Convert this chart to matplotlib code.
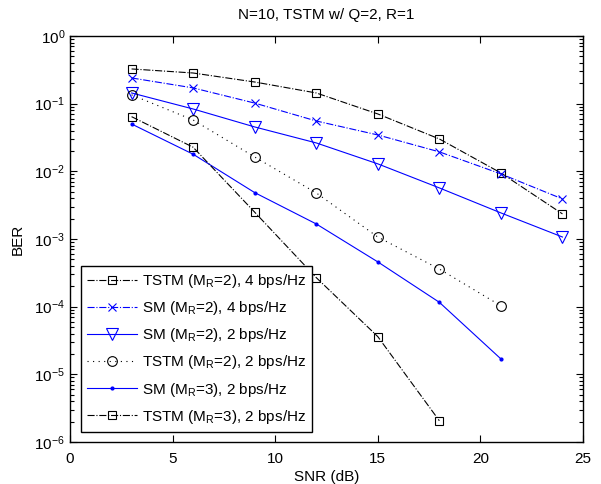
import numpy as np
import matplotlib
matplotlib.use('Agg')
import matplotlib.pyplot as plt
from matplotlib.ticker import LogLocator, NullFormatter

plt.rcParams['font.family'] = 'Liberation Sans'
plt.rcParams['mathtext.fontset'] = 'custom'
plt.rcParams['mathtext.rm'] = 'Liberation Sans'
plt.rcParams['mathtext.it'] = 'Liberation Sans'
plt.rcParams['font.size'] = 11

snr = [3, 6, 9, 12, 15, 18, 21, 24]

tstm2_4 = [0.326, 0.284, 0.209, 0.144, 0.0705, 0.0301, 0.00947, 0.00235]
sm2_4 = [0.240, 0.171, 0.102, 0.0555, 0.0345, 0.0194, 0.00916, 0.00391]
sm2_2 = [0.144, 0.0835, 0.0453, 0.0263, 0.0129, 0.00569, 0.00243, 0.00107]
tstm2_2 = [0.135, 0.0574, 0.0163, 0.0048, 0.00107, 3.6e-4, 1.03e-4]
sm3_2 = [0.0501, 0.0179, 0.00485, 0.00167, 4.59e-4, 1.16e-4, 1.69e-5]
tstm3_2 = [0.0643, 0.0227, 0.00249, 2.69e-4, 3.61e-5, 2.06e-6]

labels = ['TSTM (M$_R$=2), 4 bps/Hz',
          'SM (M$_R$=2), 4 bps/Hz',
          'SM (M$_R$=2), 2 bps/Hz',
          'TSTM (M$_R$=2), 2 bps/Hz',
          'SM (M$_R$=3), 2 bps/Hz',
          'TSTM (M$_R$=3), 2 bps/Hz']

fig = plt.figure(figsize=(6.01, 4.84), dpi=100)
ax = fig.add_axes([0.1165, 0.0868, 0.8535, 0.8388])

lw = 0.8
ax.semilogy(snr, tstm2_4, '-.', color='k', lw=lw, marker='s', ms=6, mfc='none', mec='k', mew=0.8, label=labels[0])
ax.semilogy(snr, sm2_4, '-.', color='b', lw=lw, marker='x', ms=6, mec='b', mew=0.8, label=labels[1])
ax.semilogy(snr, sm2_2, '-', color='b', lw=lw, marker='v', ms=8, mfc='none', mec='b', mew=0.8, label=labels[2])
ax.semilogy(snr[:7], tstm2_2, color='k', ls=(0, (1, 4)), lw=lw, marker='o', ms=7, mfc='none', mec='k', mew=0.8, label=labels[3])
ax.semilogy(snr[:7], sm3_2, '-', color='b', lw=lw, marker='.', ms=4, label=labels[4])
ax.semilogy(snr[:6], tstm3_2, '-.', color='k', lw=lw, marker='s', ms=6, mfc='none', mec='k', mew=0.8, label=labels[5])

ax.set_xlim(0, 25)
ax.set_ylim(1e-6, 1)
ax.set_xticks([0, 5, 10, 15, 20, 25])
ax.yaxis.set_major_locator(LogLocator(base=10, numticks=10))
ax.yaxis.set_minor_locator(LogLocator(base=10, subs=np.arange(2, 10), numticks=10))
ax.yaxis.set_minor_formatter(NullFormatter())
ax.tick_params(which='both', direction='in', top=True, right=True, width=0.8)
ax.tick_params(which='major', length=5)
ax.tick_params(which='minor', length=3)
ax.tick_params(axis='x', pad=7)
for s in ax.spines.values():
    s.set_linewidth(1.0)

ax.set_xlabel('SNR (dB)', labelpad=3)
ax.set_ylabel('BER', labelpad=7)
ax.set_title('N=10, TSTM w/ Q=2, R=1', fontsize=11, pad=12)

leg = ax.legend(loc='lower left', bbox_to_anchor=(0.021, 0.025), borderaxespad=0,
                fancybox=False, edgecolor='k', framealpha=1, handlelength=3.3,
                handletextpad=0.3, labelspacing=0.6, borderpad=0.4)
leg.get_frame().set_linewidth(1.0)

fig.savefig('out.png', dpi=100)
